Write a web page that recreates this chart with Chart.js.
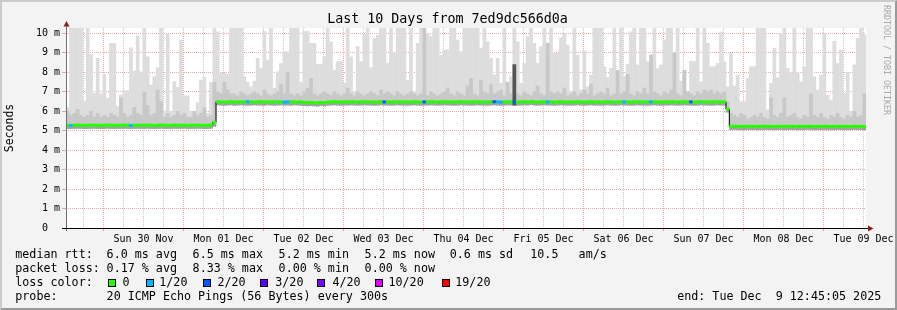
<!DOCTYPE html>
<html>
<head>
<meta charset="utf-8">
<title>Last 10 Days from 7ed9dc566d0a</title>
<script src="https://cdn.jsdelivr.net/npm/chart.js@4.4.1/dist/chart.umd.min.js"></script>
<style>
  html, body { margin: 0; padding: 0; background: #f3f3f3; }
  #graph { position: relative; width: 897px; height: 310px; overflow: hidden; background: #f3f3f3;
           font-family: "DejaVu Sans Mono", monospace; color: #000; }
  #graph canvas { position: absolute; left: 0; top: 0; }
  #frame { position: absolute; left: 0; top: 0; width: 897px; height: 310px; box-sizing: border-box;
           border: 2px solid; border-color: #cbcbcb #999 #999 #cbcbcb; pointer-events: none; }
  #title { position: absolute; left: -1px; width: 897px; top: 11.4px; text-align: center;
           font-size: 13.33px; line-height: 16px; white-space: pre; }
  #mark { position: absolute; left: 882px; top: 5px; writing-mode: vertical-rl;
          font-size: 8.3px; line-height: 10px; color: #aaa; white-space: pre; }
  .txt { position: absolute; white-space: pre; font-size: 11.7px; line-height: 14px; }
  .box { position: absolute; top: 279px; width: 6px; height: 6px; border: 1px solid #000; }
</style>
</head>
<body>
<div id="graph">
  <canvas id="rttChart" width="897" height="310"></canvas>
  <div id="title">Last 10 Days from 7ed9dc566d0a</div>
  <div id="mark">RRDTOOL / TOBI OETIKER</div>
  <div id="legend"></div>
  <div id="frame"></div>
</div>
<script>
// time axis in hours since Sat 29 Nov 00:00, graph spans 29 Nov 12:45 .. 9 Dec 12:45
const startHour = 12.75
const endHour = 252.75
const yTop = 10.26

const dayLabels = ['Sun 30 Nov', 'Mon 01 Dec', 'Tue 02 Dec', 'Wed 03 Dec', 'Thu 04 Dec',
                   'Fri 05 Dec', 'Sat 06 Dec', 'Sun 07 Dec', 'Mon 08 Dec', 'Tue 09 Dec']

// one value per hour (240 bins), milliseconds
const median = [
  5.27,5.26,5.27,5.28,5.27,5.26,5.27,5.27,5.28,5.27,5.26,5.27,5.28,5.27,5.26,5.27,5.27,5.28,5.27,5.26,5.27,5.28,5.27,5.27,
  5.28,5.27,5.26,5.27,5.28,5.27,5.27,5.26,5.28,5.27,5.27,5.28,5.26,5.27,5.27,5.28,5.27,5.26,5.27,5.28,5.42,6.48,6.47,6.46,
  6.47,6.48,6.47,6.46,6.47,6.47,6.48,6.47,6.46,6.47,6.48,6.47,6.47,6.46,6.47,6.48,6.47,6.46,6.47,6.48,6.47,6.46,6.47,6.44,
  6.43,6.44,6.43,6.42,6.44,6.43,6.46,6.47,6.48,6.47,6.46,6.47,6.47,6.48,6.47,6.46,6.47,6.48,6.47,6.47,6.46,6.47,6.48,6.47,
  6.47,6.46,6.47,6.48,6.47,6.47,6.46,6.47,6.48,6.47,6.46,6.47,6.47,6.48,6.47,6.46,6.47,6.48,6.47,6.47,6.46,6.47,6.48,6.47,
  6.47,6.46,6.47,6.48,6.47,6.47,6.46,6.47,6.48,6.47,6.46,6.47,6.48,6.47,6.47,6.46,6.47,6.48,6.47,6.49,6.47,6.46,6.47,6.48,
  6.47,6.47,6.46,6.47,6.48,6.47,6.46,6.47,6.47,6.48,6.47,6.46,6.47,6.48,6.47,6.47,6.46,6.47,6.48,6.47,6.46,6.47,6.48,6.47,
  6.47,6.46,6.47,6.48,6.47,6.47,6.46,6.47,6.48,6.47,6.46,6.47,6.47,6.48,6.47,6.46,6.47,6.48,6.47,6.47,6.46,6.47,6.48,6.47,
  6.47,6.46,6.47,6.48,6.47,6.47,6.10,5.21,5.22,5.21,5.20,5.21,5.22,5.21,5.21,5.20,5.21,5.22,5.21,5.21,5.20,5.21,5.22,5.21,
  5.21,5.22,5.21,5.20,5.21,5.21,5.22,5.21,5.20,5.21,5.21,5.22,5.21,5.20,5.21,5.22,5.21,5.21,5.20,5.21,5.22,5.21,5.21,5.20
]
const rttLow = [
  5.09,5.08,5.09,5.10,5.09,5.08,5.09,5.09,5.10,5.09,5.08,5.09,5.10,5.09,5.08,5.09,5.09,5.10,5.09,5.08,5.09,5.10,5.09,5.09,
  5.10,5.09,5.08,5.09,5.10,5.09,5.09,5.08,5.10,5.09,5.09,5.10,5.08,5.09,5.09,5.10,5.09,5.08,5.09,5.10,5.20,6.30,6.29,6.28,
  6.29,6.30,6.28,6.29,6.30,6.29,6.28,6.29,6.30,6.29,6.29,6.28,6.30,6.29,6.28,6.29,6.30,6.29,6.29,6.28,6.30,6.29,6.28,6.26,
  6.25,6.26,6.25,6.24,6.26,6.25,6.28,6.29,6.30,6.29,6.28,6.29,6.29,6.30,6.29,6.28,6.29,6.30,6.29,6.29,6.28,6.29,6.30,6.29,
  6.29,6.28,6.29,6.30,6.29,6.29,6.28,6.29,6.30,6.29,6.28,6.29,6.29,6.30,6.29,6.28,6.29,6.30,6.29,6.29,6.28,6.29,6.30,6.29,
  6.29,6.28,6.29,6.30,6.29,6.29,6.28,6.29,6.30,6.29,6.28,6.29,6.30,6.29,6.29,6.28,6.29,6.30,6.29,6.31,6.29,6.28,6.29,6.30,
  6.29,6.29,6.28,6.29,6.30,6.29,6.28,6.29,6.29,6.30,6.29,6.28,6.29,6.30,6.29,6.29,6.28,6.29,6.30,6.29,6.28,6.29,6.30,6.29,
  6.29,6.28,6.29,6.30,6.29,6.29,6.28,6.29,6.30,6.29,6.28,6.29,6.29,6.30,6.29,6.28,6.29,6.30,6.29,6.29,6.28,6.29,6.30,6.29,
  6.29,6.28,6.29,6.30,6.29,6.29,5.93,5.03,5.04,5.03,5.02,5.03,5.04,5.03,5.03,5.02,5.03,5.04,5.03,5.03,5.02,5.03,5.04,5.03,
  5.03,5.04,5.03,5.02,5.03,5.03,5.04,5.03,5.02,5.03,5.03,5.04,5.03,5.02,5.03,5.04,5.03,5.03,5.02,5.03,5.04,5.03,5.03,5.02
]
const rttHigh = [
  6.0,5.8,5.9,6.1,5.8,5.7,5.8,6.0,5.7,5.9,5.7,5.8,5.7,5.9,5.8,5.7,6.7,5.9,5.7,5.8,6.2,5.9,5.8,7.0,
  6.3,5.8,5.9,7.1,6.5,5.7,5.9,5.7,5.8,6.0,5.8,5.9,5.7,5.7,6.0,5.8,5.9,6.2,5.7,5.8,7.5,7.0,6.9,7.5,
  7.1,6.9,6.9,6.8,7.0,6.9,6.8,6.9,7.0,6.9,6.8,7.1,6.9,6.8,6.9,7.0,7.4,6.9,8.0,6.9,6.8,6.9,6.8,7.0,
  7.2,7.7,6.9,6.8,6.9,7.0,6.9,6.8,7.0,6.9,6.8,6.9,7.2,6.9,6.8,7.0,6.9,6.8,6.9,7.0,6.9,6.8,7.1,6.9,
  7.0,6.9,6.8,7.0,6.9,6.8,6.9,7.0,6.9,6.8,6.9,10.3,6.8,7.0,6.9,6.8,6.9,7.0,7.2,6.9,6.8,7.0,6.9,6.8,
  7.3,7.7,6.9,6.8,7.6,7.0,6.9,7.4,6.9,7.0,7.1,6.8,7.5,6.9,7.0,6.9,6.8,7.0,6.9,6.8,7.0,7.3,6.9,6.8,
  9.5,7.0,6.9,7.0,6.9,7.2,6.8,6.9,7.0,6.8,6.9,7.1,6.9,7.4,6.8,6.9,7.0,6.9,7.2,6.8,6.9,8.1,6.9,7.0,
  7.9,6.9,6.8,7.0,6.9,7.2,6.9,8.9,7.0,6.9,6.8,7.0,6.9,7.1,9.0,6.9,6.8,8.1,7.0,6.9,6.8,7.0,6.9,7.1,
  7.0,7.1,6.9,7.0,6.9,7.0,6.5,5.9,5.8,5.7,5.9,5.8,5.6,5.7,5.8,5.7,5.9,5.7,5.6,6.7,5.8,5.7,5.9,6.7,
  5.7,5.8,5.9,5.7,5.6,5.8,5.7,6.9,5.8,5.7,5.9,5.7,5.6,5.8,5.7,5.9,5.7,5.6,5.8,5.7,6.0,5.7,5.8,6.9
]
const rttMax = [
  6.2,10.3,10.3,10.3,10.3,6.5,10.3,8.92,6.92,8.72,6.9,7.9,6.67,9.49,9.49,6.24,6.84,7.06,7.06,9.26,8.07,9.88,8.03,10.3,
  8.8,7.35,7.78,8.24,10.3,6.02,9.95,5.98,7.52,7.23,9.66,6.8,6.8,6.0,6.0,6.45,7.6,7.74,5.9,7.49,10.3,10.08,7.95,7.95,
  7.9,10.3,10.3,10.3,10.3,7.78,7.5,7.26,7.55,8.72,8.2,10.1,8.63,10.3,7.18,8.03,8.46,9.06,9.06,10.3,10.3,10.3,7.5,10.1,
  10.1,9.49,9.49,8.41,8.41,8.8,10.3,9.57,8.12,8.55,8.55,7.44,10.3,8.8,7.0,9.32,8.55,9.95,10.3,8.24,9.74,9.9,10.3,10.3,
  8.46,10.3,8.97,10.3,10.3,10.3,7.6,10.3,7.0,9.49,10.3,10.3,10.0,9.83,10.3,10.3,8.89,9.15,9.15,10.3,10.3,9.66,9.06,10.3,
  10.3,10.3,10.3,10.3,9.23,10.3,9.57,8.72,7.86,8.72,7.44,10.3,7.35,7.78,10.3,9.57,7.44,8.46,9.83,10.3,9.49,8.46,9.32,10.3,
  8.89,10.3,8.97,8.97,9.78,10.0,9.4,7.0,10.3,8.89,7.1,9.1,7.26,7.86,10.3,10.3,10.3,8.29,7.73,8.2,10.3,7.86,10.3,7.78,
  8.41,10.08,10.3,8.38,10.3,10.3,8.55,8.38,10.3,8.2,8.38,9.66,10.3,10.3,7.55,10.3,7.55,8.12,6.92,8.58,8.55,10.3,7.52,10.3,
  9.49,8.29,8.29,8.46,10.08,8.55,7.26,8.97,7.3,7.86,6.5,6.5,7.69,8.29,8.29,10.3,10.3,10.3,6.07,7.44,9.23,7.73,10.0,10.3,
  8.2,7.95,10.3,7.95,7.52,8.29,10.3,10.3,7.78,7.1,7.86,10.0,6.84,6.58,9.6,8.46,9.15,6.92,8.0,5.98,8.38,9.74,10.3,9.9
]

// hours with lost pings (out of 20)
const lossHours = [1, 19, 54, 65, 66, 95, 107, 128, 129, 130, 134, 144, 167, 175, 187]
const lossCounts = [1, 1, 1, 1, 1, 2, 2, 2, 1, 1, 2, 1, 1, 1, 2]

// dense smoke column
const denseHours = [134]
const denseTop = [8.4]

const lossColors = { 0: '#26ff00', 1: '#00b8ff', 2: '#0059ff', 3: '#5e00ff', 4: '#7e00ff', 10: '#dd00ff', 19: '#ff0000' }

const legendRows = [
  [[15.3, 'median rtt:'], [106.6, '6.0 ms avg'], [192.6, '6.5 ms max'], [278.6, '5.2 ms min'],
   [364.6, '5.2 ms now'], [449.8, '0.6 ms sd'], [530.3, '10.5'], [578.6, 'am/s']],
  [[15.3, 'packet loss:'], [106.6, '0.17 % avg'], [192.6, '8.33 % max'], [278.6, '0.00 % min'], [364.6, '0.00 % now']],
  [[15.3, 'loss color:'], [122.5, '0'], [159.3, '1/20'], [217.5, '2/20'], [275.3, '3/20'],
   [332.5, '4/20'], [388.5, '10/20'], [455.3, '19/20']],
  [[15.3, 'probe:'], [106.6, '20 ICMP Echo Pings (56 Bytes) every 300s'], [677.2, 'end: Tue Dec  9 12:45:05 2025']]
]
const legendBoxes = [[108, 0], [145.7, 1], [202.7, 2], [260, 3], [317.3, 4], [375, 10], [442.3, 19]]

const majorGrid = 'rgba(225,60,60,0.45)'
const minorGrid = 'rgba(120,120,120,0.42)'

function buildLegend() {
  const el = document.getElementById('legend')
  legendRows.forEach((row, r) => {
    row.forEach(([x, text]) => {
      const d = document.createElement('div')
      d.className = 'txt'
      d.style.left = x + 'px'
      d.style.top = (246.7 + r * 14) + 'px'
      d.textContent = text
      el.appendChild(d)
    })
  })
  legendBoxes.forEach(([x, loss]) => {
    const b = document.createElement('div')
    b.className = 'box'
    b.style.left = x + 'px'
    b.style.background = lossColors[loss]
    el.appendChild(b)
  })
}

const plotFrame = {
  id: 'plotFrame',
  beforeDraw(chart) {
    const { ctx, chartArea: a } = chart
    ctx.save()
    ctx.fillStyle = '#ffffff'
    ctx.fillRect(a.left, a.top, a.right - a.left, a.bottom - a.top)
    ctx.restore()
  },
  afterDraw(chart) {
    const { ctx, chartArea: a } = chart
    ctx.save()
    ctx.fillStyle = '#707070'
    ctx.fillRect(a.left, a.top - 2, 1, a.bottom - a.top + 5)
    ctx.fillStyle = '#000000'
    ctx.fillRect(a.left - 4, a.bottom, a.right - a.left + 6, 1)
    ctx.fillStyle = '#8b1d1d'
    ctx.beginPath()
    ctx.moveTo(a.left - 2.5, a.top - 1.5)
    ctx.lineTo(a.left + 3.5, a.top - 1.5)
    ctx.lineTo(a.left + 0.5, a.top - 7)
    ctx.fill()
    ctx.beginPath()
    ctx.moveTo(a.right + 2, a.bottom - 2.5)
    ctx.lineTo(a.right + 2, a.bottom + 3.5)
    ctx.lineTo(a.right + 7.5, a.bottom + 0.5)
    ctx.fill()
    ctx.restore()
  }
}

function activate_chart() {
  Chart.defaults.font.family = '"DejaVu Sans Mono", monospace'

  const binX = median.map((v, i) => startHour + i + 0.5)
  const lossAt = median.map(() => 0)
  lossHours.forEach((h, k) => { lossAt[h] = lossCounts[k] })

  const band = (lo, hi) => binX.map((x, i) => ({ x: x, y: [lo[i], hi[i]] }))
  const smoke = (data, color, order) => ({
    type: 'bar', data: data, backgroundColor: color, borderWidth: 0,
    grouped: false, barPercentage: 1.12, categoryPercentage: 1, order: order
  })

  const xTicks = []
  for (let h = 18; h <= 252; h += 6) xTicks.push({ value: h })
  const yTicks = []
  for (let v = 0; v <= 10; v += 0.5) yTicks.push({ value: v })

  new Chart(document.getElementById('rttChart'), {
    type: 'bar',
    data: {
      datasets: [
        {
          type: 'line',
          data: binX.map((x, i) => ({ x: x, y: median[i] })),
          showLine: false,
          pointStyle: 'line',
          pointRadius: 1.8,
          pointBorderWidth: 3,
          pointBorderColor: ctx => lossColors[lossAt[ctx.dataIndex]],
          order: 0
        },
        {
          type: 'line',
          data: binX.map((x, i) => ({ x: x, y: median[i] })),
          stepped: 'middle',
          borderColor: '#000000',
          borderWidth: 1,
          pointRadius: 0,
          order: 1
        },
        smoke(denseHours.map((h, k) => ({ x: binX[h], y: [rttLow[h], denseTop[k]] })), '#555555', 2),
        smoke(band(rttLow, median), '#a2a2a2', 3),
        smoke(band(rttLow, rttHigh), '#c8c8c8', 4),
        smoke(band(rttLow, rttMax), '#dddddd', 5)
      ]
    },
    options: {
      responsive: false,
      animation: false,
      devicePixelRatio: 1,
      events: [],
      layout: { padding: { left: 0, top: 28, right: 31, bottom: 62 } },
      plugins: {
        legend: { display: false },
        tooltip: { enabled: false },
        title: { display: false }
      },
      scales: {
        x: {
          type: 'linear',
          offset: false,
          min: startHour,
          max: endHour,
          z: 1,
          afterBuildTicks: s => { s.ticks = xTicks.map(t => ({ value: t.value })) },
          afterFit: s => { s.height = 20; s.paddingLeft = 0; s.paddingRight = 0 },
          ticks: {
            autoSkip: false,
            maxRotation: 0,
            padding: 2,
            color: '#000',
            font: { size: 10 },
            callback: v => ((v - 12) % 24 === 0 ? dayLabels[(v - 36) / 24] : '')
          },
          grid: {
            offset: false,
            color: c => (c.tick && c.tick.value % 24 === 0 ? majorGrid : minorGrid),
            tickColor: c => (c.tick && c.tick.value % 24 === 0 ? majorGrid : 'rgba(0,0,0,0)'),
            tickLength: 3
          },
          border: { display: false, dash: [1, 1] }
        },
        y: {
          type: 'linear',
          min: 0,
          max: yTop,
          z: 1,
          afterBuildTicks: s => { s.ticks = yTicks.map(t => ({ value: t.value })) },
          afterFit: s => { s.width = 66; s.paddingTop = 0; s.paddingBottom = 0 },
          ticks: {
            padding: 2,
            color: '#000',
            font: { size: 10 },
            callback: v => (v % 1 !== 0 ? '' : (v === 0 ? '0  ' : v + ' m'))
          },
          grid: {
            color: c => (c.tick && c.tick.value % 1 === 0 ? majorGrid : minorGrid),
            tickColor: c => (c.tick && c.tick.value % 1 === 0 ? majorGrid : 'rgba(0,0,0,0)'),
            tickLength: 4
          },
          border: { display: false, dash: [1, 1] },
          title: {
            display: true,
            text: 'Seconds',
            color: '#000',
            font: { size: 11.5 },
            padding: { top: 3, bottom: 0 }
          }
        }
      }
    },
    plugins: [plotFrame]
  })
}

buildLegend()
activate_chart()
</script>
</body>
</html>
